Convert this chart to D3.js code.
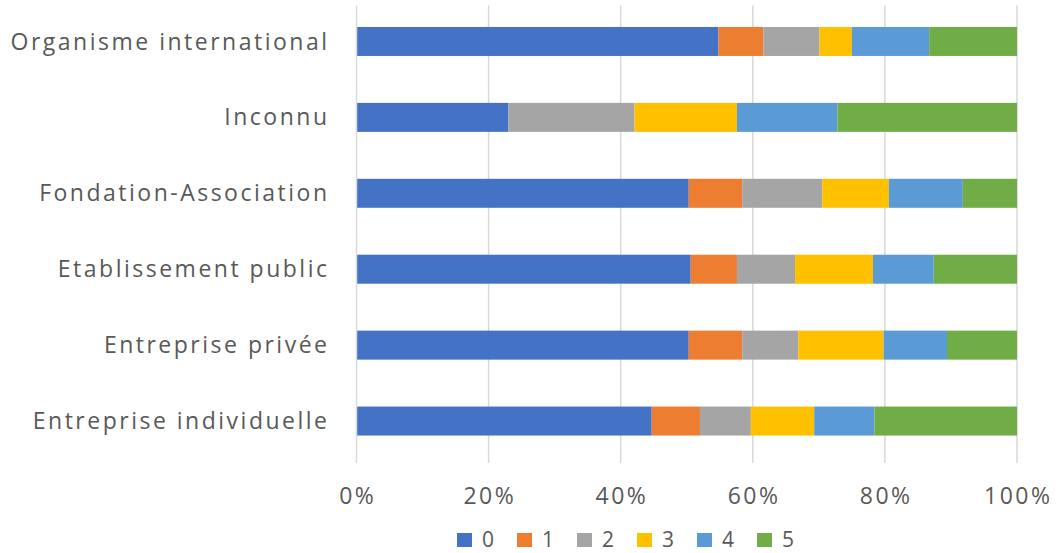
<!DOCTYPE html>
<html><head><meta charset="utf-8">
<script src="https://cdn.jsdelivr.net/npm/d3@7"></script>
<style>body{margin:0;background:#fff}svg{display:block}</style>
</head><body>
<svg id="c" width="1056" height="553"></svg>
<script>
const categories = ["Organisme international","Inconnu","Fondation-Association","Etablissement public","Entreprise privée","Entreprise individuelle"];
const seriesNames = ["0","1","2","3","4","5"];
const s0 = [54.8, 23.0, 50.3, 50.6, 50.3, 44.7];
const s1 = [6.8, 0, 8.1, 7.0, 8.1, 7.3];
const s2 = [8.5, 19.1, 12.1, 8.8, 8.5, 7.7];
const s3 = [4.9, 15.5, 10.1, 11.8, 12.9, 9.6];
const s4 = [11.7, 15.2, 11.2, 9.2, 9.6, 9.1];
const s5 = [13.3, 27.2, 8.2, 12.6, 10.6, 21.6];
const xTicks = [0, 0.2, 0.4, 0.6, 0.8, 1.0];
const colors = ["#4472C4","#ED7D31","#A5A5A5","#FFC000","#5B9BD5","#70AD47"];

const series = [s0,s1,s2,s3,s4,s5];
const rows = categories.map((c,i)=>{
  const o = {cat:c};
  seriesNames.forEach((k,j)=>o[k]=series[j][i]);
  return o;
});
const totals = categories.map((c,i)=>d3.sum(series, s=>s[i]));
const norm = rows.map((r,i)=>{const o={cat:r.cat}; seriesNames.forEach(k=>o[k]=r[k]/totals[i]); return o;});
const stacked = d3.stack().keys(seriesNames)(norm);

const svg = d3.select("#c");
const L = 356.5, R = 1017, T = 3.5, B = 459;
const x = d3.scaleLinear().domain([0,1]).range([L,R]);
const y = d3.scaleBand().domain(categories).range([T,B]).paddingInner(0.618).paddingOuter(0.309);
const font = "'Open Sans', 'Liberation Sans', sans-serif";
const ls = 2.5;

// gridlines
svg.append("g").selectAll("line").data(xTicks.filter(t=>t>0)).join("line")
  .attr("x1",d=>x(d)).attr("x2",d=>x(d)).attr("y1",T+2).attr("y2",B+4)
  .attr("stroke","#D9D9D9").attr("stroke-width",1.5);

// bars
svg.append("g").selectAll("g").data(stacked).join("g")
  .attr("fill",(d,i)=>colors[i])
  .selectAll("rect").data(d=>d).join("rect")
  .attr("x",d=>x(d[0])).attr("width",d=>Math.max(0,x(d[1])-x(d[0])))
  .attr("y",d=>y(d.data.cat)).attr("height",y.bandwidth());

// y axis line
svg.append("line").attr("x1",L).attr("x2",L).attr("y1",T+2).attr("y2",B+4)
  .attr("stroke","#D9D9D9").attr("stroke-width",1.5);

// category labels
svg.append("g").selectAll("text").data(categories).join("text")
  .attr("x",327+ls).attr("y",d=>y(d)+y.bandwidth()/2).attr("dy","0.35em")
  .attr("text-anchor","end").attr("font-family",font).attr("font-size",23)
  .attr("letter-spacing",ls+"px")
  .attr("fill","#595959").text(d=>d);

// x tick labels
svg.append("g").selectAll("text").data(xTicks).join("text")
  .attr("x",d=>x(d)+ls/2).attr("y",496).attr("dy","0.35em")
  .attr("text-anchor","middle").attr("font-family",font).attr("font-size",23)
  .attr("letter-spacing",ls+"px")
  .attr("fill","#595959").text(d=>d3.format(".0%")(d));

// legend
const lg = svg.append("g").selectAll("g").data(seriesNames).join("g")
  .attr("transform",(d,i)=>`translate(${457+i*60},540)`);
lg.append("rect").attr("x",0).attr("y",-7).attr("width",15).attr("height",14).attr("fill",(d,i)=>colors[i]);
lg.append("text").attr("x",25).attr("y",0).attr("dy","0.35em").attr("font-family",font).attr("font-size",21)
  .attr("fill","#595959").text(d=>d);
</script>
</body></html>
